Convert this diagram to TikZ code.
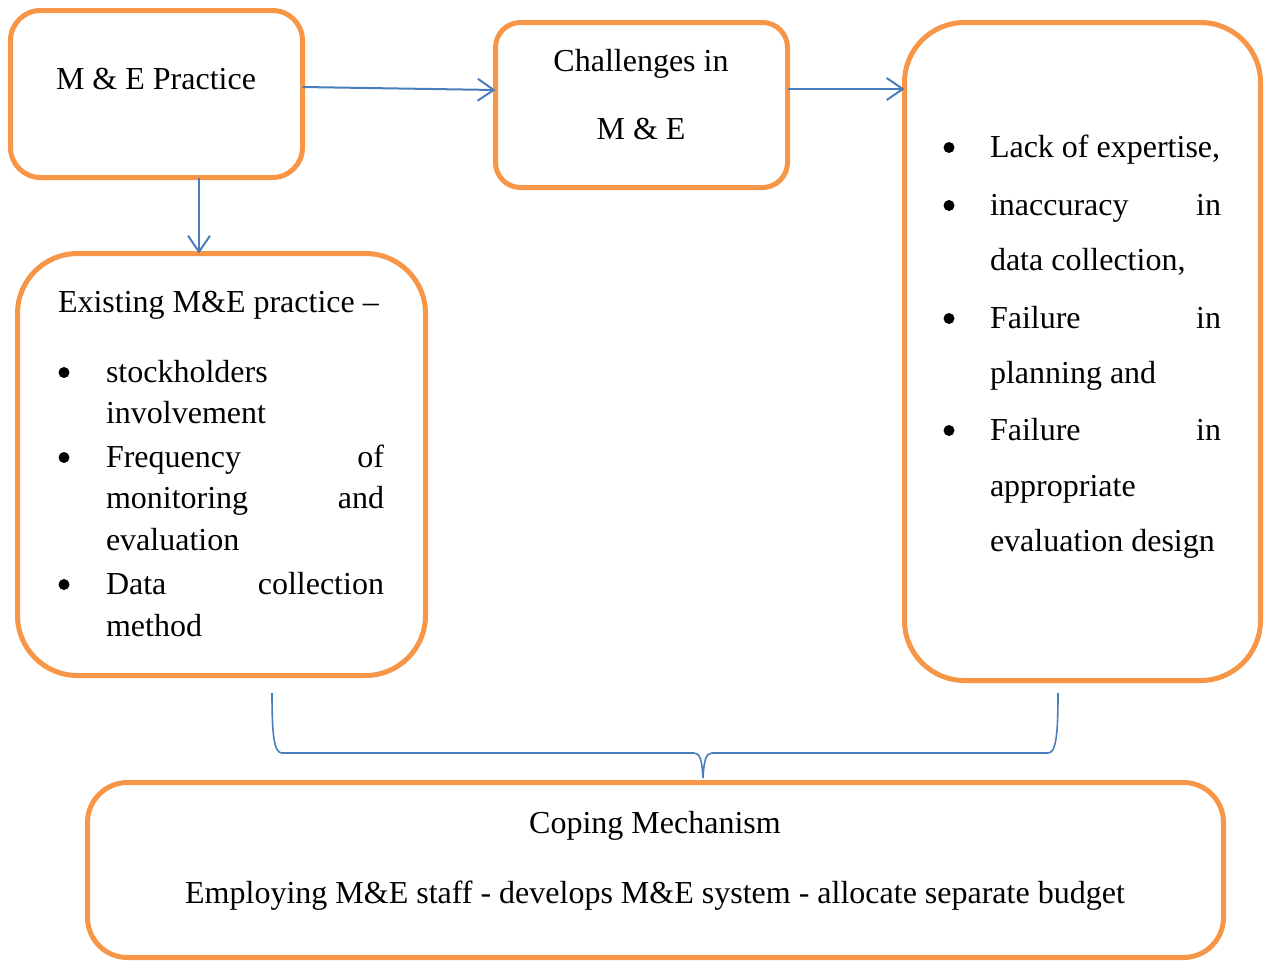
\documentclass[tikz,border=0pt]{standalone}
\usepackage{fontspec}
\setmainfont{Liberation Serif}
\usetikzlibrary{arrows.meta}
\definecolor{boxorange}{RGB}{247,150,70}
\definecolor{lineblue}{RGB}{74,126,187}
\begin{document}
\begin{tikzpicture}[x=1pt,y=-1pt,
  box/.style={draw=boxorange, line width=5pt, inner sep=0pt, outer sep=0pt},
  arr/.style={draw=lineblue, line width=2pt, -{Straight Barb[length=16pt,width=22pt,line width=2pt]}},
  brace/.style={draw=lineblue, line width=1.6pt},
  txt/.style={inner sep=0pt, outer sep=0pt, font=\fontsize{32}{38}\selectfont},
  bul/.style={circle, fill=black, inner sep=0pt, minimum size=11pt}
]
\useasboundingbox (0,0) rectangle (1266,962);
\fill[white] (0,0) rectangle (1266,962);

% boxes
\node[box, rounded corners=30pt, minimum width=292pt, minimum height=167pt] (b1) at (156.5,94) {};
\node[box, rounded corners=25pt, minimum width=292pt, minimum height=165pt] (b2) at (641.5,105) {};
\node[box, rounded corners=60pt, minimum width=356pt, minimum height=658pt] (b3) at (1082.5,351.5) {};
\node[box, rounded corners=60pt, minimum width=408pt, minimum height=422pt] (b4) at (221.5,464.5) {};
\node[box, rounded corners=40pt, minimum width=1136pt, minimum height=175pt] (b5) at (655.5,870) {};

% arrows
\draw[arr] ([yshift=7pt]b1.east) -- ([yshift=15pt]b2.west);
\draw[arr] ([yshift=16pt]b2.east) -- ([yshift=16pt]b2.east -| b3.west);
\draw[arr] ([xshift=42.5pt]b1.south) -- ([xshift=42.5pt]b1.south |- b4.north);

% brace
\coordinate (bl) at (272,693);
\coordinate (br) at (1058,693);
\coordinate (bt) at (703,778);
\draw[brace] (bl) .. controls (272,735) and (274,753) .. (282,753) -- (694,753)
  .. controls (700,753) and (702,760) .. (bt)
  .. controls (704,760) and (706,753) .. (712,753) -- (1048,753)
  .. controls (1056,753) and (1058,735) .. (br);

% box 1 and 2 text
\node[txt, anchor=base] (t1) at (156,89) {M \& E Practice};
\node[txt, anchor=base] (t2) at (641,71) {Challenges in};
\node[txt, anchor=base] (t3) at (641,139) {M \& E};

% right box
\node[bul] (r1b) at (949,147.5) {};
\node[txt, anchor=base west] (r1) at (990,157) {Lack of expertise,};
\node[bul] (r2b) at (949,205.5) {};
\node[txt, anchor=base west] (r2) at (990,215) {\makebox[231pt][s]{inaccuracy\hfill in}};
\node[txt, anchor=base west] (r3) at (990,270) {data collection,};
\node[bul] (r4b) at (949,318.5) {};
\node[txt, anchor=base west] (r4) at (990,328) {\makebox[231pt][s]{Failure\hfill in}};
\node[txt, anchor=base west] (r5) at (990,383) {planning and};
\node[bul] (r6b) at (949,430.5) {};
\node[txt, anchor=base west] (r6) at (990,440) {\makebox[231pt][s]{Failure\hfill in}};
\node[txt, anchor=base west] (r7) at (990,496) {appropriate};
\node[txt, anchor=base west] (r8) at (990,551) {evaluation design};

% left box
\node[txt, anchor=base west] (l0) at (58,312) {Existing M\&E practice –};
\node[bul] (l1b) at (64,372.5) {};
\node[txt, anchor=base west] (l1) at (106,382) {stockholders};
\node[txt, anchor=base west] (l2) at (106,423) {involvement};
\node[bul] (l3b) at (64,457.5) {};
\node[txt, anchor=base west] (l3) at (106,467) {\makebox[278pt][s]{Frequency\hfill of}};
\node[txt, anchor=base west] (l4) at (106,508) {\makebox[278pt][s]{monitoring\hfill and}};
\node[txt, anchor=base west] (l5) at (106,550) {evaluation};
\node[bul] (l6b) at (64,584.5) {};
\node[txt, anchor=base west] (l6) at (106,594) {\makebox[278pt][s]{Data\hfill collection}};
\node[txt, anchor=base west] (l7) at (106,636) {method};

% coping box
\node[txt, anchor=base] (c1) at (655,833) {Coping Mechanism};
\node[txt, anchor=base] (c2) at (655,903) {Employing M\&E staff - develops M\&E system - allocate separate budget};
\end{tikzpicture}
\end{document}
